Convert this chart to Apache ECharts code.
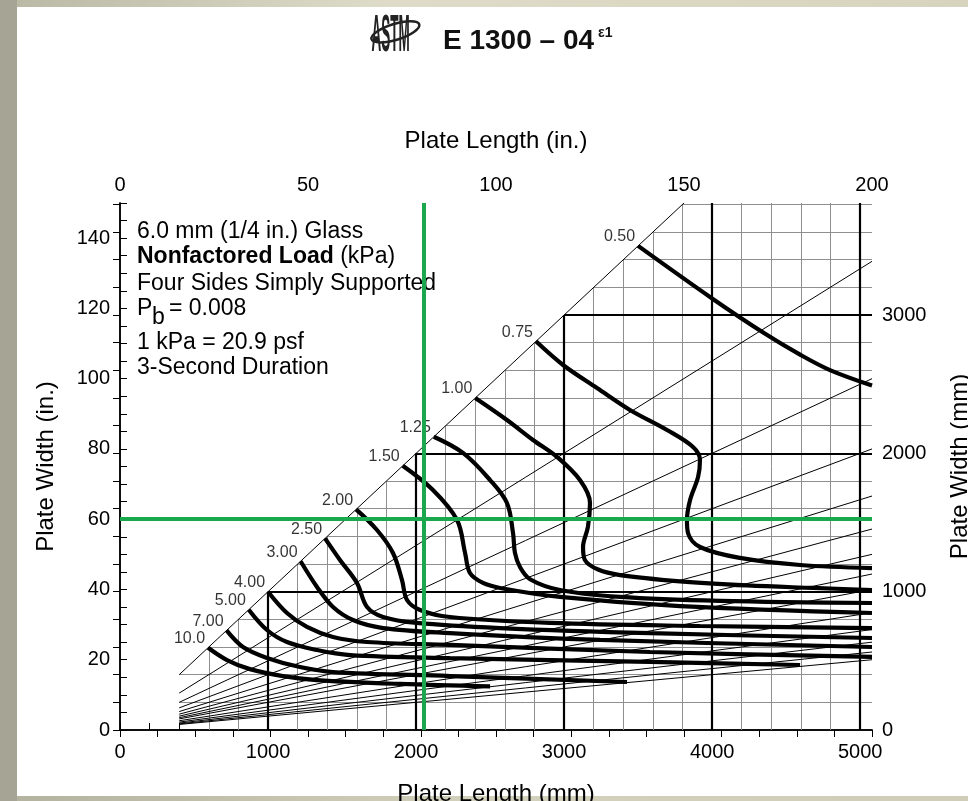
<!DOCTYPE html>
<html>
<head>
<meta charset="utf-8">
<title>E 1300 - 6.0 mm glass load chart</title>
<script src="https://cdn.jsdelivr.net/npm/echarts/dist/echarts.min.js"></script>
<style>
  html, body { margin: 0; padding: 0; background: #fff; }
  #page { position: relative; width: 968px; height: 801px; overflow: hidden; background: #fff; }
  .strip { position: absolute; }
  #chart { position: absolute; left: 0; top: 0; width: 968px; height: 801px; }
</style>
</head>
<body>
<div id="page">
  <div class="strip" style="left:0;top:0;width:968px;height:7px;background:linear-gradient(90deg,#b9b8a4,#dedcc8 40%,#d6d4be);"></div>
  <div class="strip" style="left:0;top:796px;width:968px;height:5px;background:linear-gradient(90deg,#b3b29e,#d3d1bb 50%,#cfcdb7);"></div>
  <div class="strip" style="left:0;top:0;width:17px;height:801px;background:#a6a595;"></div>
  <div id="chart"></div>
</div>
<script>
// axes (mm for plotting, inches only for labels)
var lengthMaxMm = 5080;   // 200 in
var widthMaxMm = 3810;    // 150 in
var gridStepMm = 200;

// aspect ratio lines (width / length), starting at 400 mm
var fanStartMm = 400;
var aspectRatios = [1.0, 0.667, 0.5, 0.4, 0.333, 0.286, 0.25, 0.222, 0.2, 0.167, 0.143, 0.125, 0.111, 0.1];

// load curves [length mm, width mm]
var loadLabels = ['0.50', '0.75', '1.00', '1.25', '1.50', '2.00', '2.50', '3.00', '4.00', '5.00', '7.00', '10.0'];
var curve050 = [[3500, 3500], [4000, 3120], [4350, 2870], [4600, 2710], [4800, 2600], [5080, 2490]];
var curve075 = [[2810, 2810], [2993, 2639], [3222, 2473], [3445, 2314], [3695, 2169], [3871, 2046], [3918, 1952], [3905, 1829], [3851, 1663], [3830, 1518], [3837, 1424], [3918, 1323], [4188, 1244], [4594, 1193], [5080, 1171]];
var curve100 = [[2400, 2400], [2614, 2241], [2790, 2097], [2952, 1974], [3107, 1807], [3175, 1641], [3161, 1468], [3128, 1323], [3140, 1230], [3230, 1160], [3378, 1120], [3783, 1075], [4236, 1045], [4681, 1027], [5080, 1012]];
var curve125 = [[2120, 2120], [2317, 2003], [2500, 1807], [2614, 1641], [2655, 1424], [2668, 1280], [2702, 1178], [2770, 1090], [2972, 1012], [3378, 962], [4053, 933], [5080, 918]];
var curve150 = [[1910, 1910], [2114, 1735], [2277, 1518], [2331, 1280], [2364, 1135], [2452, 1063], [2567, 1027], [2972, 962], [3783, 896], [5080, 846]];
var curve200 = [[1595, 1595], [1736, 1446], [1844, 1280], [1905, 1084], [1939, 940], [2027, 868], [2229, 817], [2905, 774], [3918, 752], [5080, 737]];
var curve250 = [[1385, 1385], [1486, 1229], [1601, 1063], [1669, 889], [1777, 817], [2006, 774], [2567, 737], [3580, 700], [5080, 665]];
var curve300 = [[1220, 1220], [1331, 1034], [1439, 889], [1574, 795], [1777, 737], [2229, 701], [3243, 651], [5080, 600]];
var curve400 = [[1000, 1000], [1128, 846], [1263, 745], [1439, 672], [1669, 636], [2229, 615], [3580, 564], [5080, 528]];
var curve500 = [[870, 870], [993, 723], [1128, 636], [1331, 578], [1554, 542], [2229, 520], [3580, 492], [4594, 470]];
var curve700 = [[720, 720], [831, 600], [993, 521], [1216, 455], [1439, 419], [2229, 390], [3425, 347]];
var curve1000 = [[595, 595], [723, 506], [878, 440], [1101, 390], [1331, 361], [1891, 333], [2500, 315]];
var loadCurves = [curve050, curve075, curve100, curve125, curve150, curve200, curve250, curve300, curve400, curve500, curve700, curve1000];

// green reference lines
var refLengthMm = 2050;
var refWidthMm = 1524; // 60 in

var FONT = 'Liberation Sans, Arial, Helvetica, sans-serif';

// grid segments below the length = width diagonal
var thinGrid = [];
var thickGrid = [];
for (var v = 600; v < lengthMaxMm; v += gridStepMm) {
  var seg = { coords: [[v, 0], [v, Math.min(v, widthMaxMm)]] };
  if (v % 1000 === 0) thickGrid.push(seg); else thinGrid.push(seg);
}
for (var h = gridStepMm; h < widthMaxMm; h += gridStepMm) {
  var segH = { coords: [[Math.max(h, fanStartMm), h], [lengthMaxMm, h]] };
  if (h % 1000 === 0) thickGrid.push(segH); else thinGrid.push(segH);
}
var fanLines = aspectRatios.map(function (r) {
  var xEnd = Math.min(lengthMaxMm, widthMaxMm / r);
  return { coords: [[fanStartMm, fanStartMm * r], [xEnd, xEnd * r]] };
});

var series = [
  {
    type: 'lines', coordinateSystem: 'cartesian2d', xAxisIndex: 0, yAxisIndex: 1,
    data: thinGrid, lineStyle: { color: '#8f8f8f', width: 1, opacity: 1 }, z: 1, silent: true
  },
  {
    type: 'lines', coordinateSystem: 'cartesian2d', xAxisIndex: 0, yAxisIndex: 1,
    data: thickGrid, lineStyle: { color: '#000', width: 2.2, opacity: 1 }, z: 2, silent: true
  },
  {
    type: 'lines', coordinateSystem: 'cartesian2d', xAxisIndex: 0, yAxisIndex: 1,
    data: fanLines, lineStyle: { color: '#000', width: 1, opacity: 1 }, z: 3, silent: true
  }
];
loadCurves.forEach(function (c, i) {
  series.push({
    type: 'line', name: loadLabels[i], xAxisIndex: 0, yAxisIndex: 1,
    data: c, smooth: 0.35, showSymbol: false, symbol: 'none',
    lineStyle: { color: '#000', width: 4.2 }, z: 4, silent: true
  });
});
// curve labels at the start of each curve
series.push({
  type: 'scatter', xAxisIndex: 0, yAxisIndex: 1, symbolSize: 0, z: 5, silent: true,
  data: loadCurves.map(function (c, i) { return { value: c[0], name: loadLabels[i] }; }),
  label: {
    show: true, position: 'left', distance: 3, offset: [0, -9],
    formatter: '{b}', color: '#000', fontSize: 16, fontFamily: FONT
  }
});
// green lines
series.push({
  type: 'lines', coordinateSystem: 'cartesian2d', xAxisIndex: 0, yAxisIndex: 1,
  data: [
    { coords: [[0, refWidthMm], [lengthMaxMm, refWidthMm]] },
    { coords: [[refLengthMm, 0], [refLengthMm, widthMaxMm]] }
  ],
  lineStyle: { color: '#1aa84f', width: 4, opacity: 1 }, z: 10, silent: true
});

var tickLabel = { color: '#000', fontSize: 20, fontFamily: FONT };
var nameStyle = { color: '#000', fontSize: 24, fontFamily: FONT };
var axisLine = { show: true, lineStyle: { color: '#000', width: 1.5 } };
var tickStyle = { inside: true, length: 7, lineStyle: { color: '#000', width: 1 } };

var option = {
  animation: false,
  backgroundColor: 'transparent',
  grid: { left: 120, top: 203, width: 752, height: 527, containLabel: false, outerBoundsMode: 'none' },
  xAxis: [
    {
      type: 'value', position: 'bottom', min: 0, max: lengthMaxMm, interval: 200,
      axisLine: axisLine, splitLine: { show: false }, axisTick: tickStyle,
      axisLabel: Object.assign({ margin: 12, showMaxLabel: false,
        formatter: function (v) { return v % 1000 === 0 ? String(v) : ''; } }, tickLabel),
      name: 'Plate Length (mm)', nameLocation: 'middle', nameGap: 52, nameTextStyle: nameStyle
    },
    {
      type: 'value', position: 'top', min: 0, max: 200, interval: 10,
      axisLine: axisLine, splitLine: { show: false }, axisTick: tickStyle,
      axisLabel: Object.assign({ margin: 8,
        formatter: function (v) { return v % 50 === 0 ? String(v) : ''; } }, tickLabel),
      name: 'Plate Length (in.)', nameLocation: 'middle', nameGap: 50, nameTextStyle: nameStyle
    }
  ],
  yAxis: [
    {
      type: 'value', position: 'left', min: 0, max: 150, interval: 5,
      axisLine: axisLine, splitLine: { show: false }, axisTick: tickStyle,
      axisLabel: Object.assign({ margin: 10,
        formatter: function (v) { return v % 20 === 0 ? String(v) : ''; } }, tickLabel),
      name: 'Plate Width (in.)', nameLocation: 'middle', nameGap: 62, nameRotate: 90, nameTextStyle: nameStyle
    },
    {
      type: 'value', position: 'right', min: 0, max: widthMaxMm, interval: 200,
      axisLine: axisLine, splitLine: { show: false }, axisTick: tickStyle,
      axisLabel: Object.assign({ margin: 10, showMaxLabel: false,
        formatter: function (v) { return v % 1000 === 0 ? String(v) : ''; } }, tickLabel),
      name: 'Plate Width (mm)', nameLocation: 'middle', nameGap: 76, nameRotate: 90, nameTextStyle: nameStyle
    }
  ],
  graphic: [
    // header
    {
      type: 'group', left: 366, top: 10, children: [
        { type: 'ellipse', shape: { cx: 23, cy: 30, rx: 25, ry: 8 }, rotation: 0.3,
          style: { fill: 'none', stroke: '#222', lineWidth: 2.5 } },
        { type: 'text', x: 7, y: 0, scaleX: 0.75, scaleY: 2.9,
          style: { text: 'ASTM', font: 'bold 18px ' + FONT, fill: '#222' } }
      ]
    },
    { type: 'text', left: 443, top: 27, style: { text: 'E 1300 \u2013 04', font: 'bold 28px ' + FONT, fill: '#111' } },
    { type: 'text', left: 598, top: 26, style: { text: '\u03b51', font: 'bold 14px ' + FONT, fill: '#111' } },
    // plot notes
    { type: 'text', left: 137, top: 220, style: { text: '6.0 mm (1/4 in.) Glass', font: '23px ' + FONT, fill: '#000' } },
    { type: 'text', left: 137, top: 245, style: {
        text: '{b|Nonfactored Load} (kPa)', font: '23px ' + FONT, fill: '#000',
        rich: { b: { fontWeight: 'bold', fontSize: 23, fontFamily: FONT, fill: '#000' } } } },
    { type: 'text', left: 137, top: 272, style: { text: 'Four Sides Simply Supported', font: '23px ' + FONT, fill: '#000' } },
    { type: 'text', left: 137, top: 297, style: { text: 'P', font: '23px ' + FONT, fill: '#000' } },
    { type: 'text', left: 152, top: 306, style: { text: 'b', font: '23px ' + FONT, fill: '#000' } },
    { type: 'text', left: 169, top: 297, style: { text: '= 0.008', font: '23px ' + FONT, fill: '#000' } },
    { type: 'text', left: 137, top: 331, style: { text: '1 kPa = 20.9 psf', font: '23px ' + FONT, fill: '#000' } },
    { type: 'text', left: 137, top: 356, style: { text: '3-Second Duration', font: '23px ' + FONT, fill: '#000' } }
  ],
  series: series
};

var chart = echarts.init(document.getElementById('chart'));
chart.setOption(option);
window.addEventListener('resize', function () { chart.resize(); });
</script>
</body>
</html>
